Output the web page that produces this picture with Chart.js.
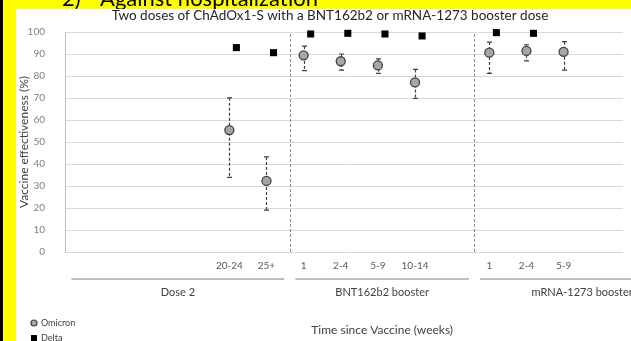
<!DOCTYPE html>
<html>
<head>
<meta charset="utf-8">
<script src="https://cdn.jsdelivr.net/npm/chart.js@4"></script>
<style>
  body { margin: 0; background: #ffff00; }
  #wrap { width: 631px; height: 341px; }
</style>
</head>
<body>
<div id="wrap"><canvas id="myChart" width="631" height="341"></canvas></div>
<script>
// time since vaccine (weeks), one slot per position on the x axis
var categories = ['', '', '', '', '20-24', '25+', '1', '2-4', '5-9', '10-14', '', '1', '2-4', '5-9'];

// Omicron VE (%) with 95% CI
var omicron     = [null, null, null, null, 55.4, 32.3, 89.4, 86.7, 84.8, 77.1, null, 90.6, 91.4, 91.0];
var omicronLow  = [null, null, null, null, 33.9, 19.0, 82.4, 82.7, 81.2, 69.8, null, 81.2, 86.9, 82.7];
var omicronHigh = [null, null, null, null, 70.1, 43.2, 93.6, 90.0, 87.8, 83.0, null, 95.4, 94.2, 95.6];

// Delta VE (%)
var delta     = [null, null, null, null, 92.9, 90.6, 99.1, 99.4, 99.1, 98.2, null, 99.7, 99.4, null];
var deltaLow  = [null, null, null, null, null, null, null, null, null, 97.4, null, null, null, null];
var deltaHigh = [null, null, null, null, null, null, null, null, null, 99.0, null, null, null, null];

// groups under the axis, and where one ends and the next begins
var groupNames = ['Dose 2', 'BNT162b2 booster', 'mRNA-1273 booster'];
var groupEdges = [-0.4, 5.63, 10.6, 16.4];

var deltaShift = 0.19; // delta squares sit a little to the right

var omicronPts = [], deltaPts = [];
categories.forEach(function (c, i) {
  if (omicron[i] != null) omicronPts.push({ x: i, y: omicron[i], lo: omicronLow[i], hi: omicronHigh[i] });
  if (delta[i] != null) deltaPts.push({ x: i + deltaShift, y: delta[i], lo: deltaLow[i], hi: deltaHigh[i] });
});

var FONT = 'Lato, "Open Sans", sans-serif';

var backdrop = {
  id: 'backdrop',
  beforeDraw: function (chart) {
    var c = chart.ctx;
    c.save();
    c.fillStyle = '#ffff00';
    c.fillRect(0, 0, chart.width, chart.height);
    c.fillStyle = '#000';
    c.fillRect(0, 0, 3, chart.height);
    c.font = '22px ' + FONT;
    c.textBaseline = 'alphabetic';
    c.fillText('2)', 62, 6);
    c.fillText('Against hospitalization', 100, 6);
    c.fillStyle = '#fff';
    c.fillRect(16, 9, chart.width - 16, chart.height - 9);
    c.restore();
  }
};

var errorBars = {
  id: 'errorBars',
  beforeDatasetsDraw: function (chart) {
    var c = chart.ctx, xs = chart.scales.x, ys = chart.scales.y, a = chart.chartArea;
    c.save();
    // dashed separators between groups
    c.strokeStyle = '#8c8c8c';
    c.lineWidth = 1;
    c.setLineDash([3, 2]);
    for (var g = 1; g < groupEdges.length - 1; g++) {
      var sx = Math.round(xs.getPixelForValue(groupEdges[g])) + 0.5;
      c.beginPath(); c.moveTo(sx, a.top + 2); c.lineTo(sx, a.bottom); c.stroke();
    }
    // CI whiskers
    chart.data.datasets.forEach(function (ds) {
      ds.data.forEach(function (p) {
        if (p.lo == null) return;
        var px = Math.round(xs.getPixelForValue(p.x)) + 0.5;
        var yl = ys.getPixelForValue(p.lo), yh = ys.getPixelForValue(p.hi);
        c.strokeStyle = '#404040';
        c.lineWidth = 1.2;
        c.setLineDash([3, 2]);
        c.beginPath(); c.moveTo(px, yh); c.lineTo(px, yl); c.stroke();
        c.setLineDash([]);
        c.beginPath();
        c.moveTo(px - 2.5, yh); c.lineTo(px + 2.5, yh);
        c.moveTo(px - 2.5, yl); c.lineTo(px + 2.5, yl);
        c.stroke();
      });
    });
    c.restore();
  }
};

var annotations = {
  id: 'annotations',
  afterDraw: function (chart) {
    var c = chart.ctx, xs = chart.scales.x;
    c.save();
    // group lines and names
    for (var g = 0; g < groupNames.length; g++) {
      var x0 = xs.getPixelForValue(groupEdges[g] + 0.15);
      var x1 = xs.getPixelForValue(groupEdges[g + 1] - 0.15);
      c.strokeStyle = '#a6a6a6';
      c.lineWidth = 1.5;
      c.beginPath(); c.moveTo(x0, 279); c.lineTo(x1, 279); c.stroke();
      c.fillStyle = '#404040';
      c.font = '11px ' + FONT;
      c.textAlign = 'center';
      c.textBaseline = 'middle';
      c.fillText(groupNames[g], (x0 + x1) / 2, 292);
    }
    // axis title below
    c.font = '12px ' + FONT;
    c.fillText('Time since Vaccine (weeks)', xs.getPixelForValue((groupEdges[1] + groupEdges[2]) / 2), 330);
    // chart title
    c.fillStyle = '#262626';
    c.font = '13.5px ' + FONT;
    c.fillText('Two doses of ChAdOx1-S with a BNT162b2 or mRNA-1273 booster dose', 330, 16);
    // legend
    c.textAlign = 'left';
    c.font = '9px ' + FONT;
    c.fillStyle = '#a6a6a6';
    c.strokeStyle = '#404040';
    c.lineWidth = 1.2;
    c.beginPath(); c.arc(34, 323, 3, 0, Math.PI * 2); c.fill(); c.stroke();
    c.fillStyle = '#404040';
    c.fillText('Omicron', 41, 323);
    c.fillStyle = '#000';
    c.fillRect(31, 335, 6, 6);
    c.fillStyle = '#404040';
    c.fillText('Delta', 41, 338);
    c.restore();
  }
};

var ctx = document.getElementById('myChart').getContext('2d');
var myChart = new Chart(ctx, {
  type: 'scatter',
  data: {
    datasets: [{
      label: 'Delta',
      data: deltaPts,
      pointStyle: 'rect',
      pointRadius: 5,
      pointHoverRadius: 5,
      backgroundColor: '#000',
      borderColor: '#000',
      borderWidth: 0,
      clip: false
    }, {
      label: 'Omicron',
      data: omicronPts,
      pointStyle: 'circle',
      pointRadius: 4.5,
      pointHoverRadius: 4.5,
      backgroundColor: '#a6a6a6',
      borderColor: '#404040',
      borderWidth: 1.3,
      clip: false
    }]
  },
  options: {
    responsive: false,
    animation: false,
    events: [],
    layout: { padding: { top: 32, left: 0, right: 0, bottom: 0 } },
    plugins: { legend: { display: false }, tooltip: { enabled: false } },
    scales: {
      x: {
        type: 'linear',
        min: -0.425,
        max: 14.6,
        afterFit: function (s) { s.height = 89; },
        grid: { display: false, drawTicks: false },
        border: { display: false },
        ticks: {
          stepSize: 1,
          autoSkip: false,
          maxRotation: 0,
          padding: 8,
          color: '#595959',
          font: { family: FONT, size: 10 },
          callback: function (v) { return Number.isInteger(v) ? (categories[v] || '') : ''; }
        }
      },
      y: {
        min: 0,
        max: 100,
        afterFit: function (s) { s.width = 65; },
        grid: { color: '#d9d9d9', drawTicks: false },
        border: { color: '#bfbfbf' },
        ticks: {
          stepSize: 10,
          padding: 20,
          color: '#7f7f7f',
          font: { family: FONT, size: 10 }
        },
        title: {
          display: true,
          text: 'Vaccine effectiveness (%)',
          color: '#404040',
          font: { family: FONT, size: 12 },
          padding: { top: 17, bottom: 0 }
        }
      }
    }
  },
  plugins: [backdrop, errorBars, annotations]
});
</script>
</body>
</html>
